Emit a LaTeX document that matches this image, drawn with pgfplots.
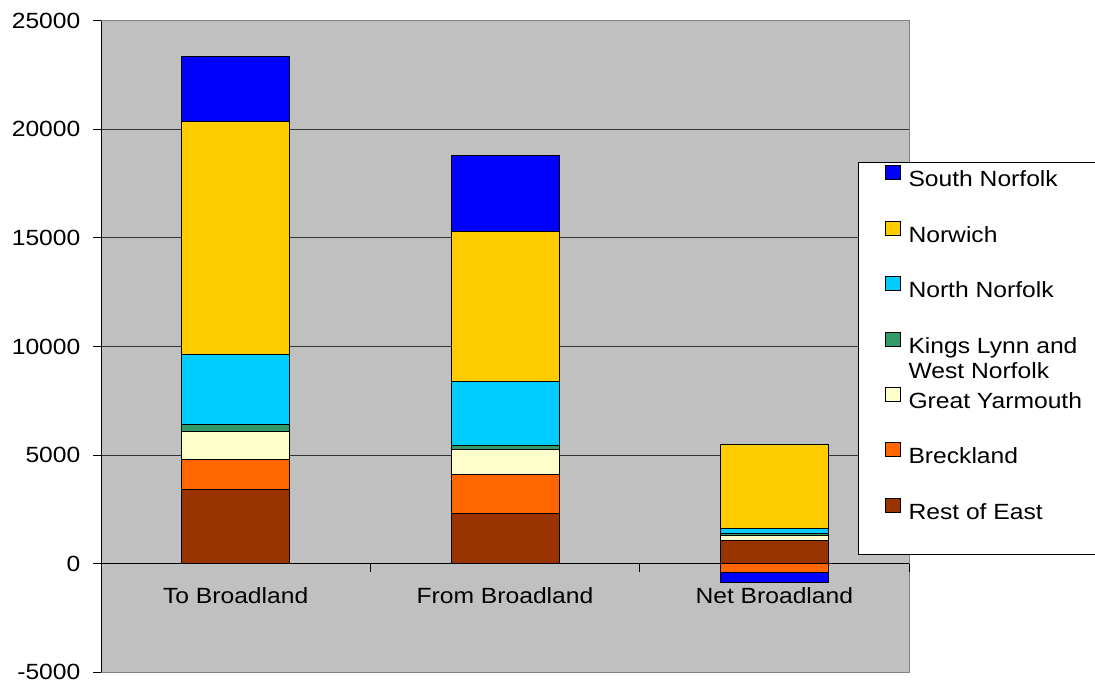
\documentclass[border=0pt]{standalone}
\usepackage{fontspec}
\setmainfont{Liberation Sans}[FakeStretch=1.12]
\usepackage{pgfplots}
\pgfplotsset{compat=1.18}

\definecolor{plotgray}{HTML}{C0C0C0}
\definecolor{cSN}{HTML}{0000FF}
\definecolor{cNor}{HTML}{FFCC00}
\definecolor{cNN}{HTML}{00CCFF}
\definecolor{cKL}{HTML}{339966}
\definecolor{cGY}{HTML}{FFFFCC}
\definecolor{cBr}{HTML}{FF6600}
\definecolor{cRoE}{HTML}{993300}

% strut for legend rows
\newcommand{\ls}{\rule[-2.5pt]{0pt}{10.5pt}}

\pgfplotsset{
  broad/.style={
    scale only axis, width=404pt, height=325.8pt,
    xmin=-0.5, xmax=2.5, ymin=-5000, ymax=25000,
    enlargelimits=false,
    ybar stacked, bar width=54pt,
    scaled ticks=false,
  },
  % last legend row gets extra room below, as in the original
  deeplegend/.style={legend image code/.code={%
    \draw[##1,draw=black,line width=0.5pt] (0pt,0.2pt) rectangle (7.5pt,7.2pt);
    \path (0pt,-19pt);}},
}

\begin{document}
\begin{tikzpicture}
% positive parts of each bar
\begin{axis}[broad,
  axis background/.style={fill=plotgray},
  axis line style={draw=black!50},
  ymajorgrids, grid style={black!80, line width=0.5pt},
  ytick={-5000,0,...,25000},
  xtick={0,1,2}, xticklabels={To Broadland, From Broadland, Net Broadland},
  major tick length=0pt,
  tick label style={font=\fontsize{11}{13}\selectfont},
  /pgf/number format/assume math mode=true,
  /pgf/number format/1000 sep={},
  y tick label style={xshift=-6.8pt},
  x tick label style={yshift=45.9pt},
  reverse legend,
  legend cell align=left,
  legend image code/.code={\draw[#1,draw=black,line width=0.5pt] (0pt,0.2pt) rectangle (7.5pt,7.2pt);},
  legend style={at={(0.9369,0.7832)}, anchor=north west, draw=black,
    line width=0.5pt, fill=white, font=\fontsize{11}{12.5}\selectfont,
    inner xsep=13pt, inner ysep=1.5pt, row sep=13.5pt, column sep=2pt,
    nodes={inner sep=2pt}},
]
\addplot[fill=cRoE, draw=black, line width=0.5pt, deeplegend]
  coordinates {(0,3400) (1,2290) (2,1080)};
\addlegendentry{\ls Rest of East}
\addplot[fill=cBr, draw=black, line width=0.5pt] coordinates {(0,1400) (1,1810) (2,0)};
\addlegendentry{\ls Breckland}
\addplot[fill=cGY, draw=black, line width=0.5pt] coordinates {(0,1300) (1,1140) (2,200)};
\addlegendentry{\ls Great Yarmouth\hspace{20pt}}
\addplot[fill=cKL, draw=black, line width=0.5pt] coordinates {(0,320) (1,210) (2,100)};
\addlegendentry{\ls\smash{\begin{tabular}[t]{@{}l@{}}Kings Lynn and\\West Norfolk\end{tabular}}}
\addplot[fill=cNN, draw=black, line width=0.5pt] coordinates {(0,3220) (1,2930) (2,250)};
\addlegendentry{\ls North Norfolk}
\addplot[fill=cNor, draw=black, line width=0.5pt] coordinates {(0,10740) (1,6910) (2,3840)};
\addlegendentry{\ls Norwich}
\addplot[fill=cSN, draw=black, line width=0.5pt] coordinates {(0,2950) (1,3500) (2,0)};
\addlegendentry{\ls South Norfolk}
\end{axis}
% negative parts of the net bar, and the axis lines
\begin{axis}[broad,
  axis x line=middle, axis y line=left,
  axis line style={draw=black, line width=0.5pt, -},
  xtick={-0.5,0.5,1.5,2.5}, xticklabels={},
  ytick={-5000,0,...,25000}, yticklabels={},
  tick align=outside, major tick length=4pt,
  tick style={black, line width=0.5pt},
]
\addplot[fill=cBr, draw=black, line width=0.5pt] coordinates {(2,-390)};
\addplot[fill=cSN, draw=black, line width=0.5pt] coordinates {(2,-490)};
\end{axis}
\pgfresetboundingbox
\path[use as bounding box] (-50.5pt,-3.35pt) rectangle (497pt,336.15pt);
\end{tikzpicture}
\end{document}
